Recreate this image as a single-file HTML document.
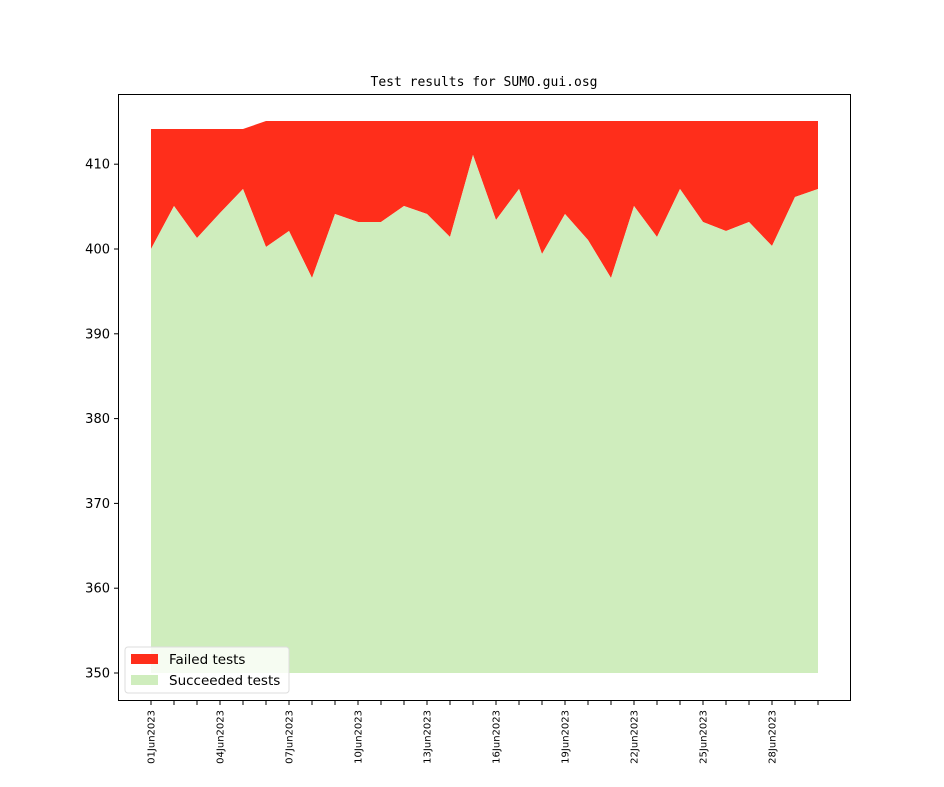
<!DOCTYPE html>
<html><head><style>body{margin:0;background:#fff}svg{display:block}text{font-family:"DejaVu Sans","Liberation Sans",sans-serif}</style></head>
<body>
<svg width="944" height="787" viewBox="0 0 944 787" xmlns="http://www.w3.org/2000/svg">
<rect width="944" height="787" fill="#fff"/>
<text x="484" y="86" text-anchor="middle" font-size="13" style="font-family:'DejaVu Sans Mono','Liberation Mono',monospace">Test results for SUMO.gui.osg</text>
<polygon fill="#ff2e1b" points="151,129 243,129 266,121 818,121 818,189 795,197 772,246 749,222 726,231 703,222 680,189 657,237 634,206 611,278 588,240 565,214 542,254 519,189 496,220 473,155 450,237 427,214 404,206 381,222 358,222 335,214 312,278 289,231 266,247 243,189 220,213 197,238 174,206 151,249"/>
<polygon fill="#cfedbd" points="151,673 151,249 174,206 197,238 220,213 243,189 266,247 289,231 312,278 335,214 358,222 381,222 404,206 427,214 450,237 473,155 496,220 519,189 542,254 565,214 588,240 611,278 634,206 657,237 680,189 703,222 726,231 749,222 772,246 795,197 818,189 818,673"/>
<rect x="118.5" y="94.5" width="732" height="606" fill="none" stroke="#000" stroke-width="1"/>
<g stroke="#000">
<line x1="114" x2="118" y1="673" y2="673"/><line x1="114" x2="118" y1="588.2" y2="588.2"/><line x1="114" x2="118" y1="503.4" y2="503.4"/><line x1="114" x2="118" y1="418.6" y2="418.6"/><line x1="114" x2="118" y1="333.8" y2="333.8"/><line x1="114" x2="118" y1="249" y2="249"/><line x1="114" x2="118" y1="164.2" y2="164.2"/>
</g>
<g font-size="13" text-anchor="end">
<text x="110" y="677.5">350</text><text x="110" y="592.7">360</text><text x="110" y="507.9">370</text><text x="110" y="423.1">380</text><text x="110" y="338.3">390</text><text x="110" y="253.5">400</text><text x="110" y="168.7">410</text>
</g>
<g stroke="#000">
<line x1="151" x2="151" y1="701" y2="705"/><line x1="174" x2="174" y1="701" y2="705"/><line x1="197" x2="197" y1="701" y2="705"/><line x1="220" x2="220" y1="701" y2="705"/><line x1="243" x2="243" y1="701" y2="705"/><line x1="266" x2="266" y1="701" y2="705"/><line x1="289" x2="289" y1="701" y2="705"/><line x1="312" x2="312" y1="701" y2="705"/><line x1="335" x2="335" y1="701" y2="705"/><line x1="358" x2="358" y1="701" y2="705"/><line x1="381" x2="381" y1="701" y2="705"/><line x1="404" x2="404" y1="701" y2="705"/><line x1="427" x2="427" y1="701" y2="705"/><line x1="450" x2="450" y1="701" y2="705"/><line x1="473" x2="473" y1="701" y2="705"/><line x1="496" x2="496" y1="701" y2="705"/><line x1="519" x2="519" y1="701" y2="705"/><line x1="542" x2="542" y1="701" y2="705"/><line x1="565" x2="565" y1="701" y2="705"/><line x1="588" x2="588" y1="701" y2="705"/><line x1="611" x2="611" y1="701" y2="705"/><line x1="634" x2="634" y1="701" y2="705"/><line x1="657" x2="657" y1="701" y2="705"/><line x1="680" x2="680" y1="701" y2="705"/><line x1="703" x2="703" y1="701" y2="705"/><line x1="726" x2="726" y1="701" y2="705"/><line x1="749" x2="749" y1="701" y2="705"/><line x1="772" x2="772" y1="701" y2="705"/><line x1="795" x2="795" y1="701" y2="705"/><line x1="818" x2="818" y1="701" y2="705"/>
</g>
<g font-size="10" text-anchor="end">
<text transform="translate(154.5,710) rotate(-90)">01Jun2023</text>
<text transform="translate(223.5,710) rotate(-90)">04Jun2023</text>
<text transform="translate(292.5,710) rotate(-90)">07Jun2023</text>
<text transform="translate(361.5,710) rotate(-90)">10Jun2023</text>
<text transform="translate(430.5,710) rotate(-90)">13Jun2023</text>
<text transform="translate(499.5,710) rotate(-90)">16Jun2023</text>
<text transform="translate(568.5,710) rotate(-90)">19Jun2023</text>
<text transform="translate(637.5,710) rotate(-90)">22Jun2023</text>
<text transform="translate(706.5,710) rotate(-90)">25Jun2023</text>
<text transform="translate(775.5,710) rotate(-90)">28Jun2023</text>
</g>
<rect x="125" y="647" width="164" height="46" rx="3" fill="#fff" fill-opacity="0.8" stroke="#ddd"/>
<rect x="131" y="654" width="27" height="10" fill="#ff2e1b"/>
<rect x="131" y="675" width="27" height="10" fill="#cfedbd"/>
<text x="169" y="664" font-size="13.5">Failed tests</text>
<text x="169" y="685" font-size="13.5">Succeeded tests</text>
</svg>
</body></html>
